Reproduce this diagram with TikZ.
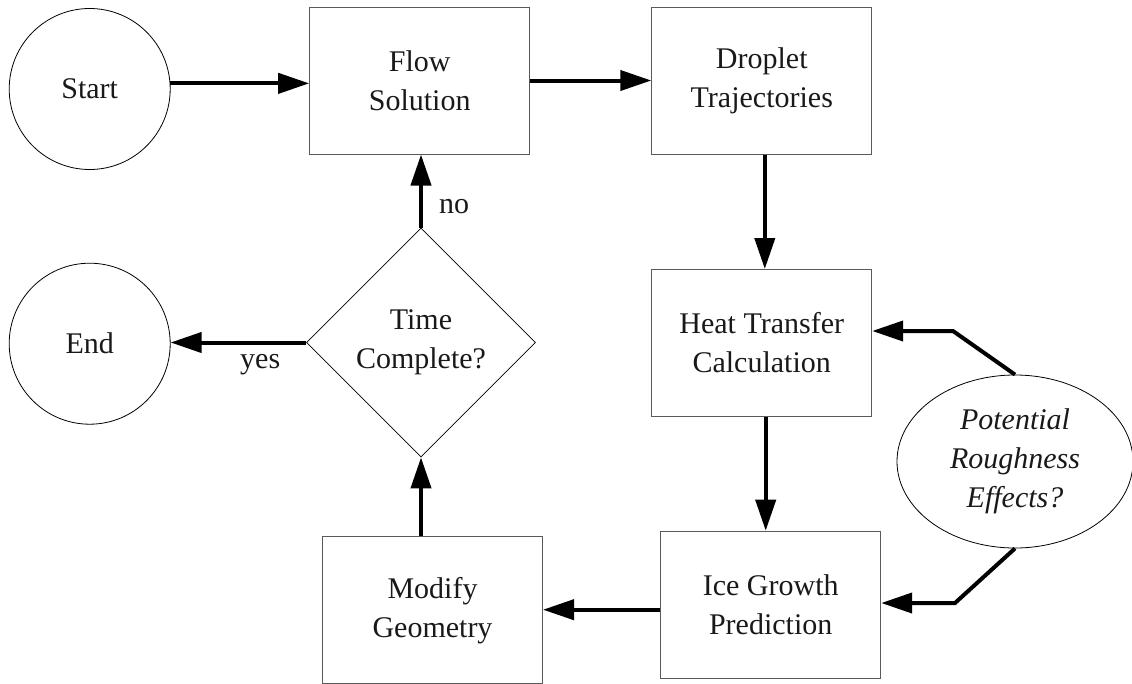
\documentclass[tikz,border=0pt]{standalone}
\usepackage{fontspec}
\setmainfont{Liberation Serif}
\usetikzlibrary{arrows.meta,shapes.geometric}

\begin{document}
\begin{tikzpicture}[x=1pt,y=-1pt,
  every node/.style={font=\fontsize{30}{39}\selectfont, text=black!90, align=center},
  procbox/.style={draw=black!65, line width=1pt, rectangle, minimum width=220pt, minimum height=147pt, inner sep=0pt},
  terminal/.style={draw, line width=0.8pt, circle, minimum size=161pt, inner sep=0pt},
  decision/.style={draw, line width=0.8pt, diamond, minimum width=229pt, minimum height=229pt, inner sep=0pt},
  remark/.style={draw, line width=0.8pt, ellipse, minimum width=236pt, minimum height=173pt, inner sep=0pt, font=\fontsize{30}{39}\selectfont\itshape},
  flowarrow/.style={line width=4pt, -{Triangle[length=31pt,width=20pt]}},
  edgelabel/.style={inner sep=0pt}
]
\useasboundingbox (0,0) rectangle (1132,683);

% nodes
\node[terminal] (start) at (89.7,89) {Start};
\node[procbox] (flow) at (419.7,80.5) {Flow\\Solution};
\node[procbox] (drop) at (761.8,80.7) {Droplet\\Trajectories};
\node[procbox] (heat) at (761.7,343) {Heat Transfer\\Calculation};
\node[procbox] (ice) at (770.7,604.7) {Ice Growth\\Prediction};
\node[procbox] (geom) at (432.5,610.2) {Modify\\Geometry};
\node[decision] (time) at (421,342.5) {Time\\Complete?};
\node[terminal] (end) at (89.7,343.7) {End};
\node[remark] (rough) at (1015,461.5) {Potential\\Roughness\\Effects?};

% bends of the roughness feedback lines
\coordinate (k1) at (953,331);
\coordinate (k2) at (955,603);

% connectors
\draw[flowarrow] (start.4) -- (start.4 -| flow.west);
\draw[flowarrow] (flow.east) -- (flow.east -| drop.west);
\draw[flowarrow] ([xshift=3pt]drop.south) -- ([xshift=3pt]drop.south |- heat.north);
\draw[flowarrow] ([xshift=4pt]heat.south) -- ([xshift=4pt]heat.south |- ice.north);
\draw[flowarrow] ([yshift=-5pt]ice.west) -- ([yshift=-5pt]ice.west -| geom.east);
\draw[flowarrow] (time.south |- geom.north) -- (time.south);
\draw[flowarrow] (time.north) -- (time.north |- flow.south);
\draw[flowarrow] (time.west) -- (time.west -| end.east);
\draw[flowarrow] (rough.north) -- (k1) -- (k1 -| heat.east);
\draw[flowarrow] (rough.south) -- (k2) -- (k2 -| ice.east);

% branch labels
\node[edgelabel, anchor=base west] (nolabel) at (439,213) {no};
\node[edgelabel, anchor=base west] (yeslabel) at (240,368) {yes};
\end{tikzpicture}
\end{document}
